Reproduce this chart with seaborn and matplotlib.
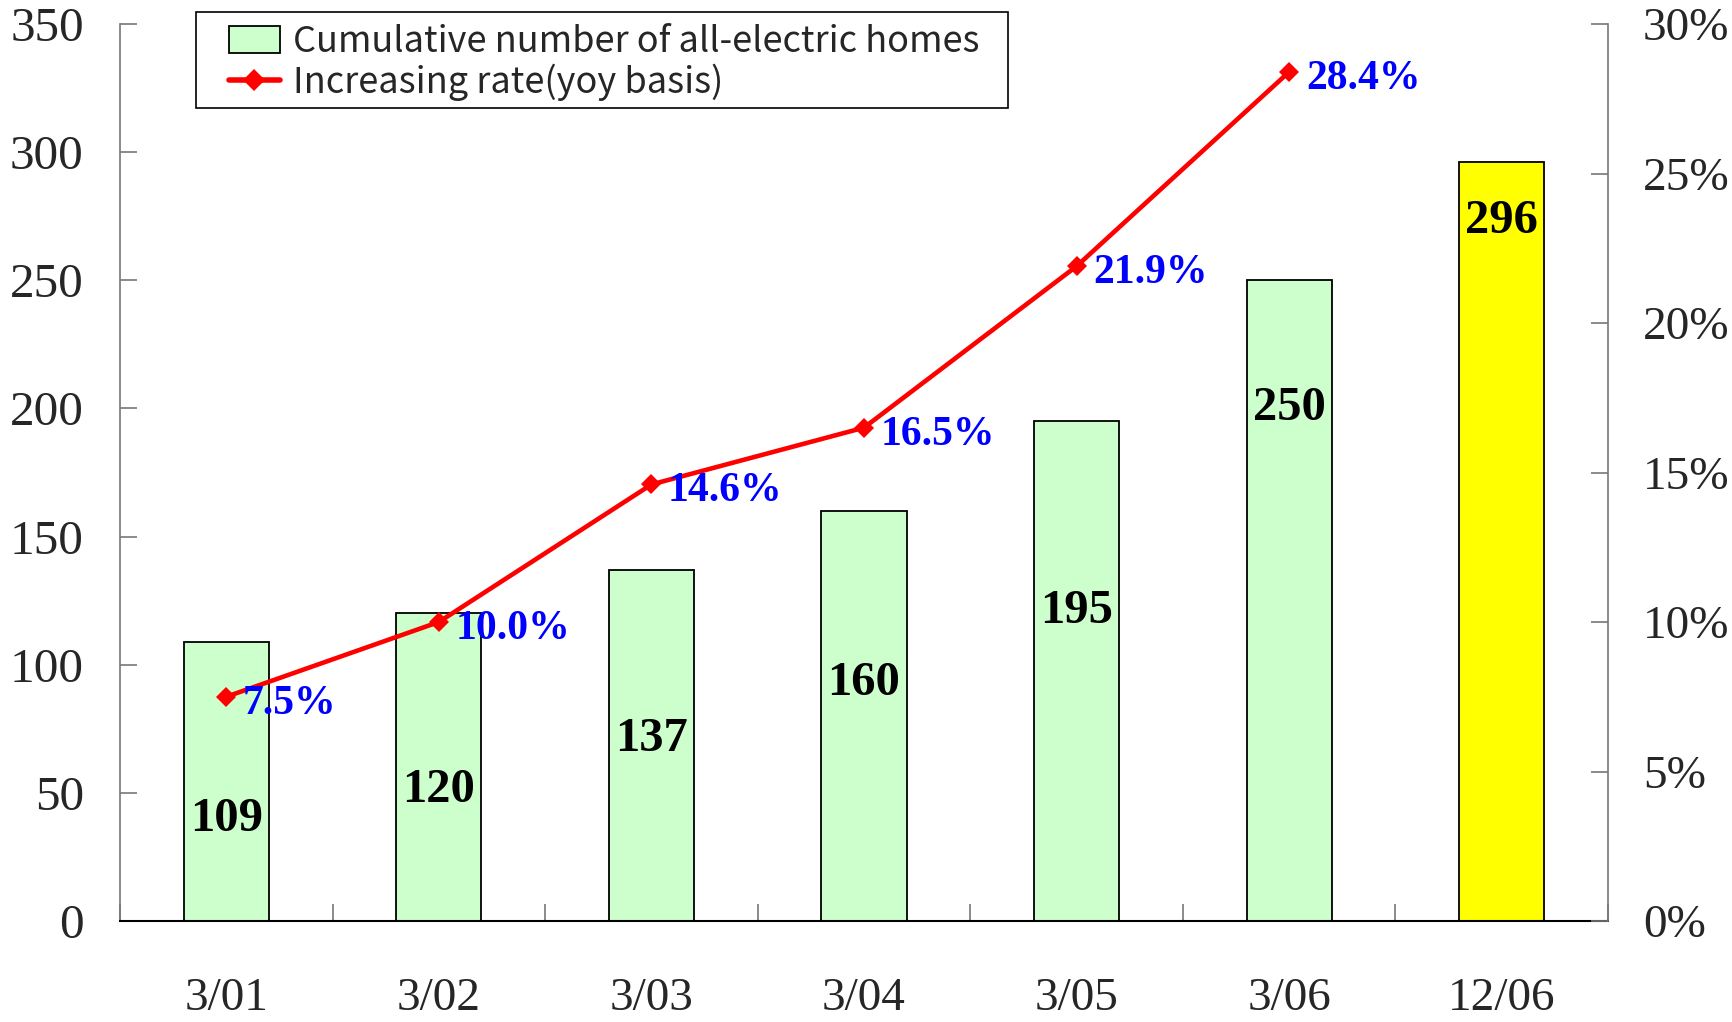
import numpy as np
import seaborn as sns
import matplotlib.pyplot as plt
from matplotlib.patches import Patch, Rectangle
from matplotlib.lines import Line2D
from matplotlib.ticker import FuncFormatter, FixedLocator

# Data
periods = ["3/01", "3/02", "3/03", "3/04", "3/05", "3/06", "12/06"]
homes = [109, 120, 137, 160, 195, 250, 296]
rate_periods = ["3/01", "3/02", "3/03", "3/04", "3/05", "3/06"]
rates = [7.5, 10.0, 14.6, 16.5, 21.9, 28.4]

# where the bar value labels sit (in left-axis units)
label_heights = [40, 51, 71, 93, 121, 200, 273]
bar_colors = ["#CCFFCC"] * 6 + ["#FFFF00"]

sns.set_style("white")
plt.rcParams["font.family"] = ["Liberation Serif", "DejaVu Serif"]

fig = plt.figure(figsize=(17.33, 10.22), dpi=100)
ax = fig.add_axes([0.0692, 0.0988, 0.8587, 0.8777])

sns.barplot(x=periods, y=homes, hue=periods, palette=bar_colors, width=0.4,
            saturation=1, edgecolor="black", linewidth=1.3, legend=False, ax=ax)
ax.set_xlim(-0.5, 6.5)
ax.set_ylim(0, 350)
ax.set_yticks(range(0, 351, 50))
ax.set_xlabel("")
ax.set_ylabel("")
ax.grid(False)

for i, (v, h) in enumerate(zip(homes, label_heights)):
    ax.text(i, h, str(v), ha="center", va="center", fontsize=35,
            fontweight="bold", color="black")

# x ticks: labels at categories, tick marks at category boundaries
ax.tick_params(axis="x", which="major", length=0, pad=41, labelsize=34)
ax.xaxis.set_minor_locator(FixedLocator(np.arange(-0.5, 7, 1.0)))
ax.tick_params(axis="x", which="minor", bottom=True, direction="in", length=12,
               width=1.2, color="#777777")
ax.tick_params(axis="y", left=True, direction="in", length=12, width=1.2,
               color="#777777", pad=26, labelsize=35.5)

ax2 = ax.twinx()
x_pos = np.arange(len(rates))
sns.lineplot(x=x_pos, y=rates, color="#FF0000", linewidth=3.3,
             marker="D", markersize=10, markeredgewidth=0, ax=ax2)
ax2.set_ylim(0, 30)
ax2.set_yticks(range(0, 31, 5))
ax2.yaxis.set_major_formatter(FuncFormatter(lambda v, p: f"{v:.0f}%"))
ax2.tick_params(axis="y", right=True, direction="in", length=12, width=1.2,
                color="#777777", pad=25, labelsize=34)
ax2.set_xlim(-0.5, 6.5)
ax2.grid(False)

for x, r in zip(x_pos, rates):
    ax2.annotate(f"{r:.1f}%", (x, r), xytext=(12, -5), textcoords="offset points",
                 ha="left", va="center", fontsize=30, fontweight="bold",
                 color="#0000FF")

for a in (ax, ax2):
    a.spines["top"].set_visible(False)
ax.spines["right"].set_visible(False)
ax.spines["left"].set_color("#777777")
ax.spines["left"].set_linewidth(1.2)
ax.spines["bottom"].set_color("black")
ax.spines["bottom"].set_linewidth(1.5)
ax2.spines["left"].set_visible(False)
ax2.spines["bottom"].set_visible(False)
ax2.spines["right"].set_color("#777777")
ax2.spines["right"].set_linewidth(1.2)

# legend frame drawn separately so the padding matches
fig.patches.append(Rectangle((196 / 1733, 1 - 108 / 1022), 812 / 1733, 96 / 1022,
                             transform=fig.transFigure, facecolor="white",
                             edgecolor="black", linewidth=1.2, zorder=5))
handles = [
    Patch(facecolor="#CCFFCC", edgecolor="black", linewidth=1.3),
    Line2D([0], [0], color="#FF0000", linewidth=4, marker="D",
           markersize=11, markeredgewidth=0),
]
leg = fig.legend(handles, ["Cumulative number of all-electric homes",
                           "Increasing rate(yoy basis)"],
                 loc="upper left", bbox_to_anchor=(229 / 1733, 1 - 24 / 1022),
                 frameon=False, borderpad=0, labelspacing=0.1,
                 handlelength=1.4, handleheight=0.8, handletextpad=0.36,
                 borderaxespad=0,
                 prop={"family": ["Noto Sans CJK JP", "DejaVu Sans"], "size": 26})
leg.set_zorder(6)

fig.savefig("out.png", dpi=100, facecolor="white")
